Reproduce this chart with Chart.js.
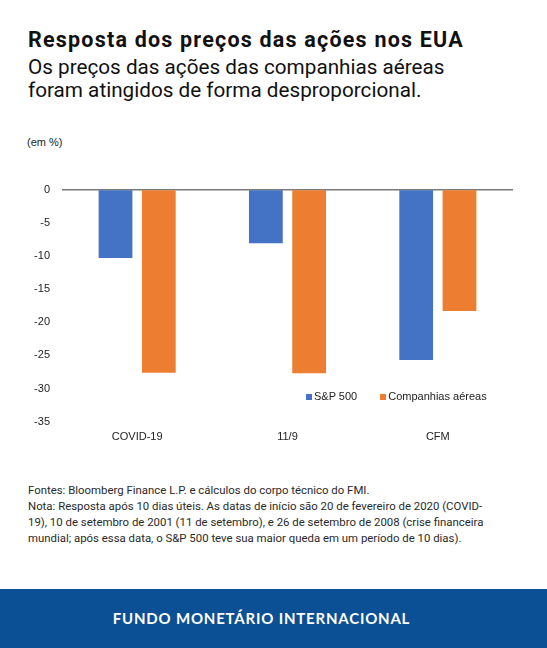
<!DOCTYPE html>
<html>
<head>
<meta charset="utf-8">
<script src="https://cdn.jsdelivr.net/npm/chart.js@4/dist/chart.umd.min.js"></script>
<style>
  html, body { margin: 0; padding: 0; background: #fff; }
  body { width: 547px; height: 648px; position: relative; overflow: hidden; font-family: Roboto, sans-serif; }
  #title { position: absolute; left: 28px; top: 28px; font-size: 21.5px; font-weight: 700; letter-spacing: 1.2px; color: #111; line-height: 24px; }
  #subtitle { position: absolute; left: 28px; top: 56px; font-size: 20.7px; color: #111; line-height: 23px; }
  #unit { position: absolute; left: 27px; top: 136px; font: 11px "Liberation Sans", Arial, sans-serif; color: #222; }
  #chartBox { position: absolute; left: 0; top: 171px; width: 547px; height: 279px; }
  #legend { position: absolute; top: 390px; left: 306px; font: 11px "Liberation Sans", Arial, sans-serif; color: #222; white-space: nowrap; }
  #legend span.sw { display: inline-block; width: 6px; height: 6px; margin-right: 2px; vertical-align: 0px; }
  #legend span.item { margin-right: 23px; }
  #notes { position: absolute; left: 28px; top: 482px; font-size: 11.4px; line-height: 16px; color: #2a2a2a; width: 462px; }
  #footer { position: absolute; left: 0; top: 589px; width: 547px; height: 59px; background: #0b4f94; }
  #footer div { position: absolute; left: 0; width: 523px; top: 20px; text-align: center; color: #fff; font: 700 15px Lato, sans-serif; letter-spacing: 0.8px; }
</style>
</head>
<body>
<div id="title">Resposta dos preços das ações nos EUA</div>
<div id="subtitle">Os preços das ações das companhias aéreas<br>foram atingidos de forma desproporcional.</div>
<div id="unit">(em %)</div>
<div id="chartBox"><canvas id="chart" width="547" height="279"></canvas></div>
<div id="legend"></div>
<div id="notes">Fontes: Bloomberg Finance L.P. e cálculos do corpo técnico do FMI.<br>Nota: Resposta após 10 dias úteis. As datas de início são 20 de fevereiro de 2020 (COVID-19), 10 de setembro de 2001 (11 de setembro), e 26 de setembro de 2008 (crise financeira mundial; após essa data, o S&amp;P 500 teve sua maior queda em um período de 10 dias).</div>
<div id="footer"><div>FUNDO MONETÁRIO INTERNACIONAL</div></div>

<script>
// data
const categories = ["COVID-19", "11/9", "CFM"];
const sp500 = [-10.3, -8.1, -25.7];
const airlines = [-27.6, -27.7, -18.3];
const seriesNames = ["S&P 500", "Companhias aéreas"];
const seriesColors = ["#4472c4", "#ed7d31"];

const axisFont = { family: "'Liberation Sans', Arial, sans-serif", size: 11 };

// html legend
const legendEl = document.getElementById("legend");
seriesNames.forEach((name, i) => {
    const item = document.createElement("span");
    item.className = "item";
    const sw = document.createElement("span");
    sw.className = "sw";
    sw.style.background = seriesColors[i];
    item.appendChild(sw);
    item.appendChild(document.createTextNode(name));
    legendEl.appendChild(item);
});

const ctx = document.getElementById("chart").getContext("2d");

new Chart(ctx, {
    type: "bar",
    data: {
        labels: categories,
        datasets: [
            { label: seriesNames[0], data: sp500, backgroundColor: seriesColors[0] },
            { label: seriesNames[1], data: airlines, backgroundColor: seriesColors[1] }
        ]
    },
    options: {
        responsive: false,
        animation: false,
        layout: { padding: { top: 0, right: 34, bottom: 0, left: 0 } },
        datasets: {
            bar: { categoryPercentage: 0.576, barPercentage: 0.78 }
        },
        plugins: {
            legend: { display: false },
            tooltip: { enabled: false }
        },
        scales: {
            x: {
                grid: { display: false, drawTicks: false },
                border: { display: false },
                ticks: { color: "#222", font: axisFont, padding: 9 },
                afterFit: (scale) => { scale.height = 28.3; }
            },
            y: {
                min: -35,
                max: 0,
                grid: {
                    drawTicks: false,
                    color: (c) => c.tick && c.tick.value === 0 ? "#7a7a7a" : "rgba(0,0,0,0)",
                    lineWidth: 1.5
                },
                border: { display: false },
                ticks: { stepSize: 5, color: "#222", font: axisFont, padding: 12 },
                afterFit: (scale) => { scale.width = 62; }
            }
        }
    }
});
</script>
</body>
</html>
